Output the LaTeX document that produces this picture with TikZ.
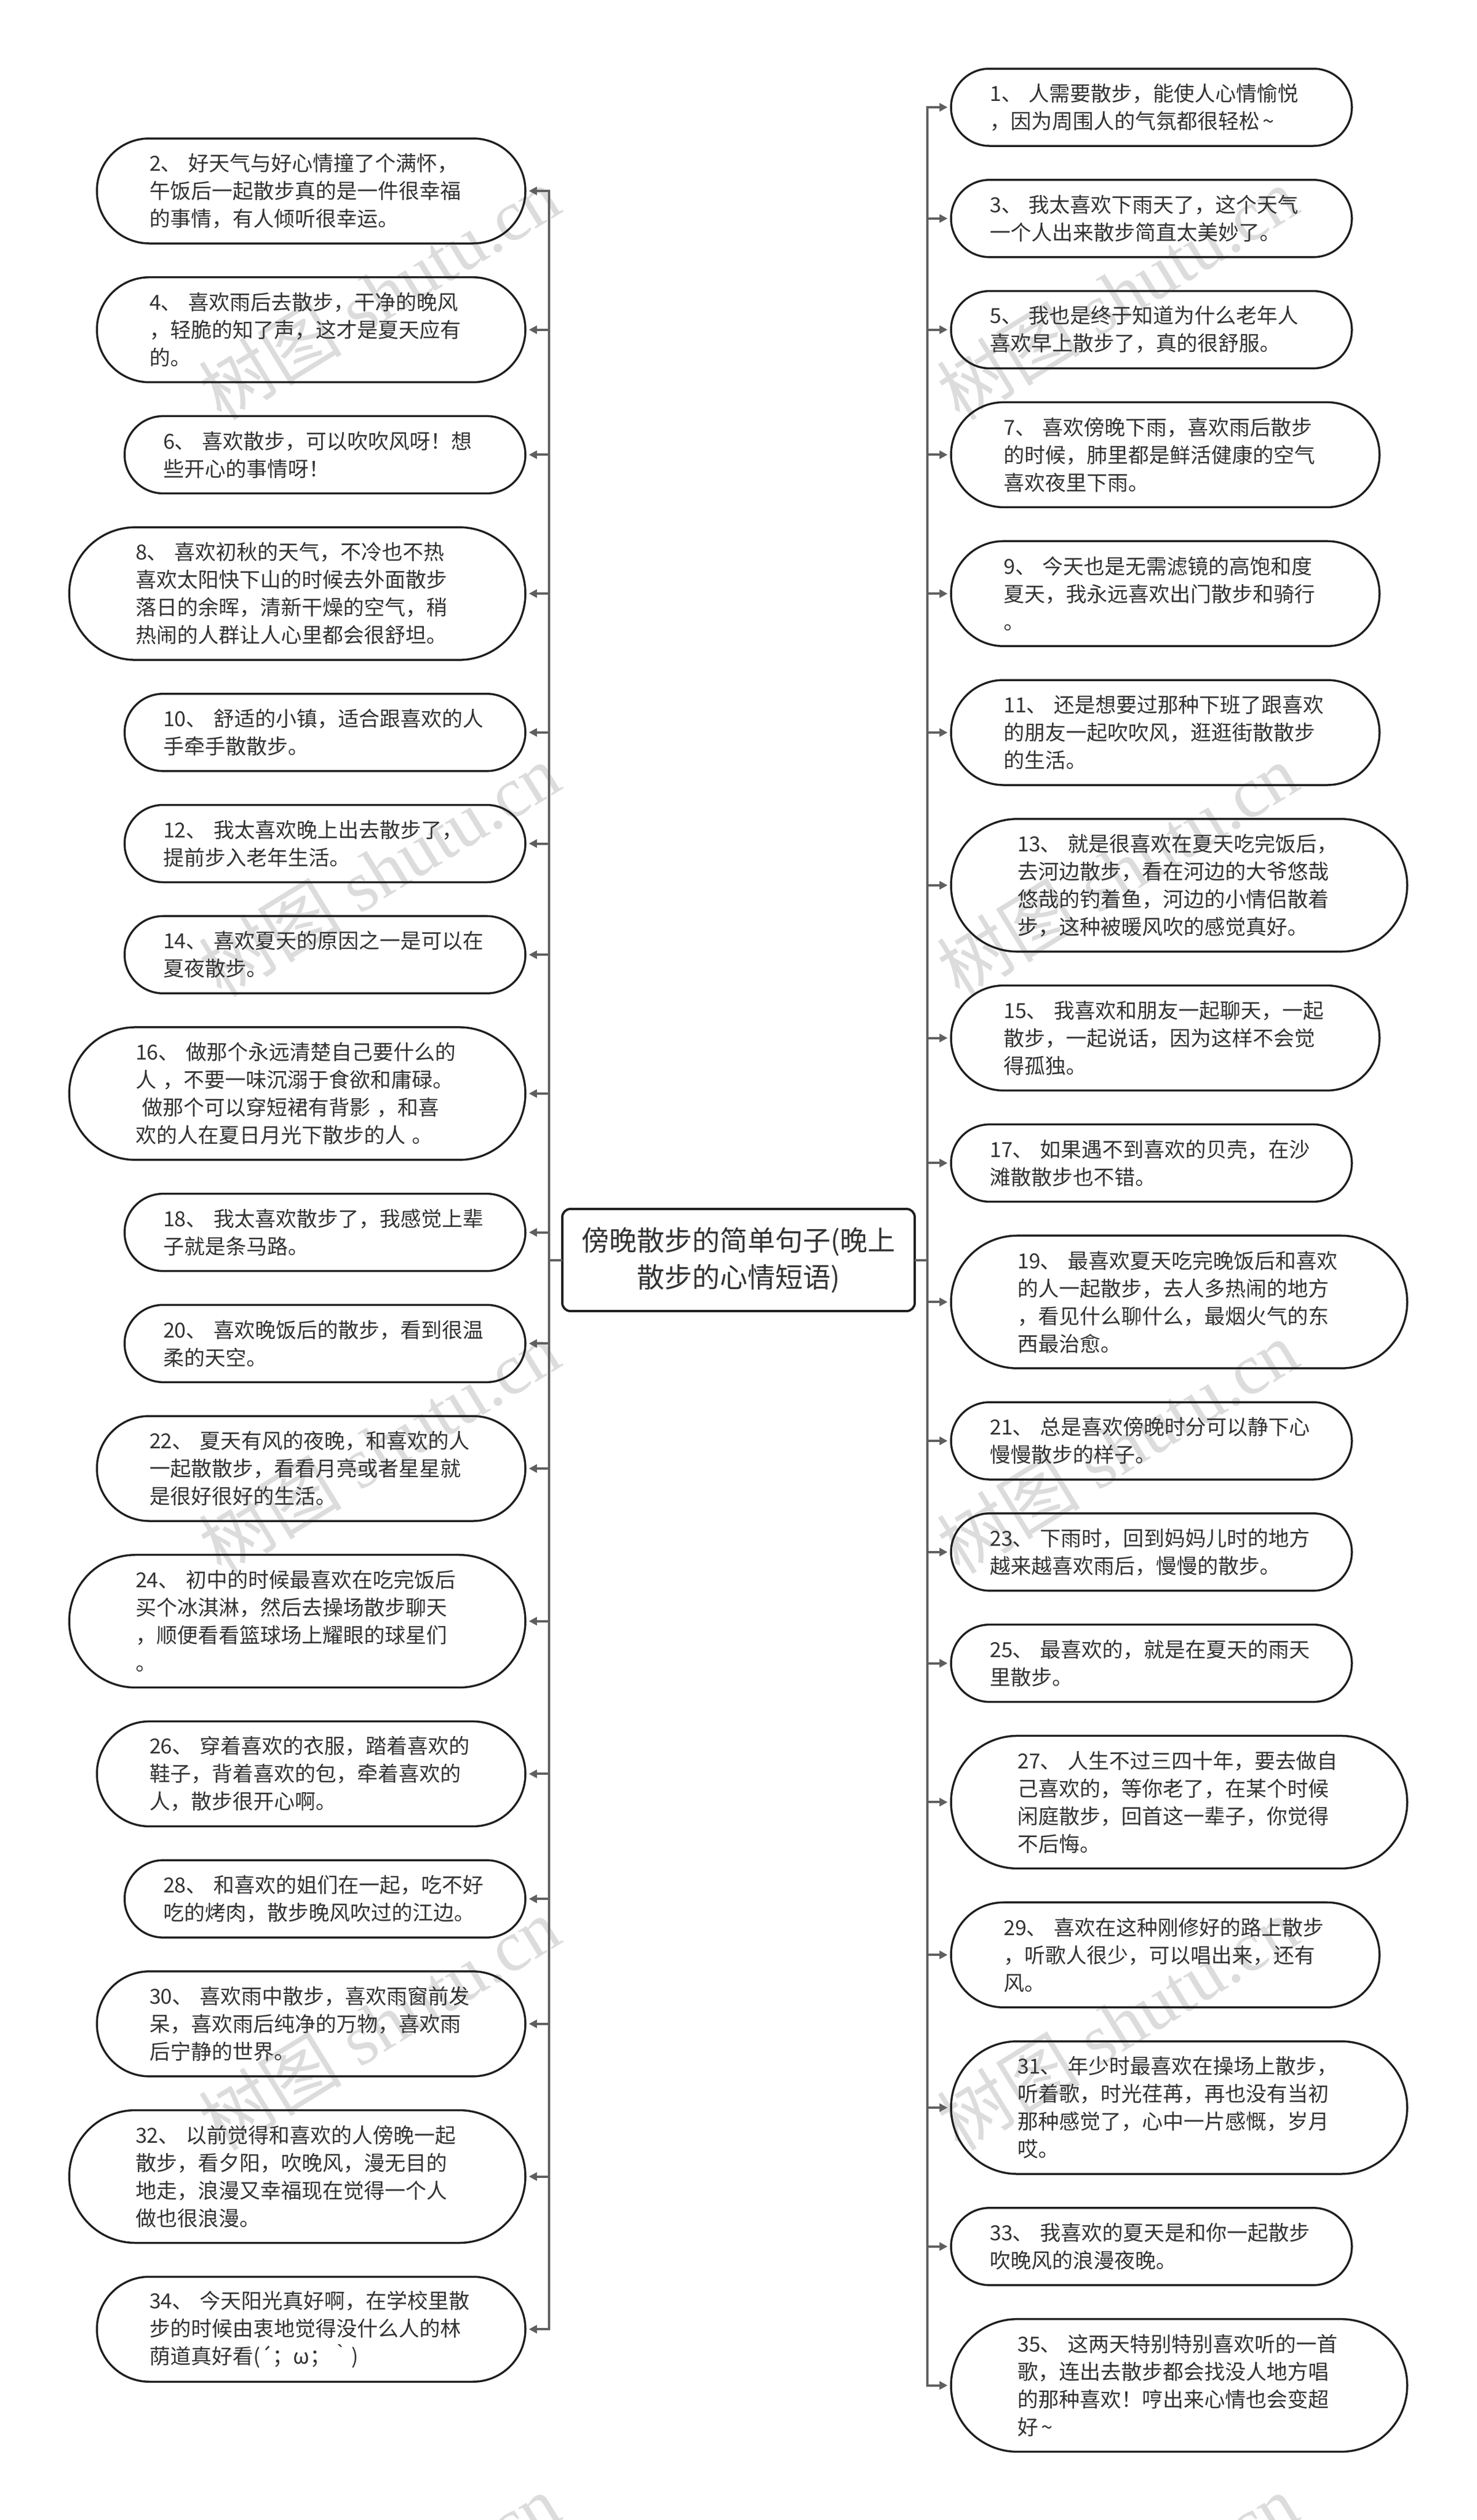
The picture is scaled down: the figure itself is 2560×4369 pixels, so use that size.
\documentclass[tikz,border=0pt]{standalone}
\usepackage{fontspec}
\setmainfont{Noto Sans CJK SC}
\newfontfamily\wmcjk{Noto Sans CJK SC}
\newfontfamily\wmlatin{Liberation Serif}
\usetikzlibrary{arrows.meta}
\definecolor{inkc}{HTML}{333333}
\definecolor{edgec}{HTML}{1F1F1F}
\definecolor{connc}{HTML}{5F5F5F}
\definecolor{markc}{HTML}{DCDCDC}
\tikzset{
  leafbase/.style={draw=edgec,line width=3.5pt,rectangle,text=inkc,align=left,
    text width=561pt,inner ysep=0pt,outer sep=0pt,
    font=\fontsize{36pt}{48pt}\selectfont},
  leaftwo/.style={leafbase,inner xsep=67pt,minimum height=134pt,rounded corners=66.9pt},
  leafthree/.style={leafbase,inner xsep=91pt,minimum height=182pt,rounded corners=90.9pt},
  leaffour/.style={leafbase,inner xsep=115pt,minimum height=230pt,rounded corners=114.9pt},
  rootbox/.style={draw=edgec,line width=4pt,rectangle,rounded corners=14pt,text=inkc,
    align=center,minimum width=611pt,minimum height=177pt,outer sep=0pt,inner sep=0pt,
    font=\fontsize{48pt}{64pt}\selectfont},
  conn/.style={draw=connc,line width=4pt,-{Triangle[length=14pt,width=14pt]},shorten >=6pt},
  stem/.style={draw=connc,line width=4pt},
  markbox/.style={text=markc,rotate=31.6,inner sep=0pt},
}
\newcommand{\wmk}{{\fontsize{124.5pt}{124.5pt}\wmcjk 树图\wmlatin{} shutu.cn}}
\begin{document}
\begin{tikzpicture}[x=1pt,y=-1pt]
\fill[white] (0,0) rectangle (2560,4369);
\useasboundingbox (0,0) rectangle (2560,4369);
% watermarks
\foreach \wx/\wy/\wn in {657.5/508.5/a,657.5/1508.5/b,657.5/2508.5/c,657.5/3508.5/d,657.5/4508.5/e,1937.5/508.5/f,1937.5/1508.5/g,1937.5/2508.5/h,1937.5/3508.5/i,1937.5/4508.5/j}
  \node[markbox] (mark\wn) at (\wx,\wy) {\wmk};
% root
\node[rootbox] (root) at (1280.5,2184.5) {傍晚散步的简单句子(晚上\\散步的心情短语)};
\coordinate (trunkL) at (952,2184.5);
\coordinate (trunkR) at (1608,2184.5);
% left leaves
\node[leafthree,anchor=east] (l2) at (911,331) {2、 好天气与好心情撞了个满怀，\\午饭后一起散步真的是一件很幸福\\的事情，有人倾听很幸运。};
\node[leafthree,anchor=east] (l4) at (911,571.7) {4、 喜欢雨后去散步，干净的晚风\\，轻脆的知了声，这才是夏天应有\\的。};
\node[leaftwo,anchor=east] (l6) at (911,788.4) {6、 喜欢散步，可以吹吹风呀！想\\些开心的事情呀！};
\node[leaffour,anchor=east] (l8) at (911,1029.1) {8、 喜欢初秋的天气，不冷也不热\\喜欢太阳快下山的时候去外面散步\\落日的余晖，清新干燥的空气，稍\\热闹的人群让人心里都会很舒坦。};
\node[leaftwo,anchor=east] (l10) at (911,1269.8) {10、 舒适的小镇，适合跟喜欢的人\\手牵手散散步。};
\node[leaftwo,anchor=east] (l12) at (911,1462.5) {12、 我太喜欢晚上出去散步了，\\提前步入老年生活。};
\node[leaftwo,anchor=east] (l14) at (911,1655.2) {14、 喜欢夏天的原因之一是可以在\\夏夜散步。};
\node[leaffour,anchor=east] (l16) at (911,1895.9) {16、 做那个永远清楚自己要什么的\\人 ，不要一味沉溺于食欲和庸碌。\\\hspace*{11pt}做那个可以穿短裙有背影 ，和喜\\欢的人在夏日月光下散步的人 。};
\node[leaftwo,anchor=east] (l18) at (911,2136.6) {18、 我太喜欢散步了，我感觉上辈\\子就是条马路。};
\node[leaftwo,anchor=east] (l20) at (911,2329.3) {20、 喜欢晚饭后的散步，看到很温\\柔的天空。};
\node[leafthree,anchor=east] (l22) at (911,2546) {22、 夏天有风的夜晚，和喜欢的人\\一起散散步，看看月亮或者星星就\\是很好很好的生活。};
\node[leaffour,anchor=east] (l24) at (911,2810.7) {24、 初中的时候最喜欢在吃完饭后\\买个冰淇淋，然后去操场散步聊天\\，顺便看看篮球场上耀眼的球星们\\。};
\node[leafthree,anchor=east] (l26) at (911,3075.4) {26、 穿着喜欢的衣服，踏着喜欢的\\鞋子，背着喜欢的包，牵着喜欢的\\人，散步很开心啊。};
\node[leaftwo,anchor=east] (l28) at (911,3292.1) {28、 和喜欢的姐们在一起，吃不好\\吃的烤肉，散步晚风吹过的江边。};
\node[leafthree,anchor=east] (l30) at (911,3508.8) {30、 喜欢雨中散步，喜欢雨窗前发\\呆，喜欢雨后纯净的万物，喜欢雨\\后宁静的世界。};
\node[leaffour,anchor=east] (l32) at (911,3773.5) {32、 以前觉得和喜欢的人傍晚一起\\散步，看夕阳，吹晚风，漫无目的\\地走，浪漫又幸福现在觉得一个人\\做也很浪漫。};
\node[leafthree,anchor=east] (l34) at (911,4038.2) {34、 今天阳光真好啊，在学校里散\\步的时候由衷地觉得没什么人的林\\荫道真好看(´；ω；｀)};
% right leaves
\node[leaftwo,anchor=west] (r1) at (1649,186) {1、 人需要散步，能使人心情愉悦\\，因为周围人的气氛都很轻松\,\textasciitilde};
\node[leaftwo,anchor=west] (r3) at (1649,378.8) {3、 我太喜欢下雨天了，这个天气\\一个人出来散步简直太美妙了。};
\node[leaftwo,anchor=west] (r5) at (1649,571.6) {5、 我也是终于知道为什么老年人\\喜欢早上散步了，真的很舒服。};
\node[leafthree,anchor=west] (r7) at (1649,788.4) {7、 喜欢傍晚下雨，喜欢雨后散步\\的时候，肺里都是鲜活健康的空气\\喜欢夜里下雨。};
\node[leafthree,anchor=west] (r9) at (1649,1029.2) {9、 今天也是无需滤镜的高饱和度\\夏天，我永远喜欢出门散步和骑行\\。};
\node[leafthree,anchor=west] (r11) at (1649,1270) {11、 还是想要过那种下班了跟喜欢\\的朋友一起吹吹风，逛逛街散散步\\的生活。};
\node[leaffour,anchor=west] (r13) at (1649,1534.8) {13、 就是很喜欢在夏天吃完饭后，\\去河边散步，看在河边的大爷悠哉\\悠哉的钓着鱼，河边的小情侣散着\\步，这种被暖风吹的感觉真好。};
\node[leafthree,anchor=west] (r15) at (1649,1799.6) {15、 我喜欢和朋友一起聊天，一起\\散步，一起说话，因为这样不会觉\\得孤独。};
\node[leaftwo,anchor=west] (r17) at (1649,2016.4) {17、 如果遇不到喜欢的贝壳，在沙\\滩散散步也不错。};
\node[leaffour,anchor=west] (r19) at (1649,2257.2) {19、 最喜欢夏天吃完晚饭后和喜欢\\的人一起散步，去人多热闹的地方\\，看见什么聊什么，最烟火气的东\\西最治愈。};
\node[leaftwo,anchor=west] (r21) at (1649,2498) {21、 总是喜欢傍晚时分可以静下心\\慢慢散步的样子。};
\node[leaftwo,anchor=west] (r23) at (1649,2690.8) {23、 下雨时，回到妈妈儿时的地方\\越来越喜欢雨后，慢慢的散步。};
\node[leaftwo,anchor=west] (r25) at (1649,2883.6) {25、 最喜欢的，就是在夏天的雨天\\里散步。};
\node[leaffour,anchor=west] (r27) at (1649,3124.4) {27、 人生不过三四十年，要去做自\\己喜欢的，等你老了，在某个时候\\闲庭散步，回首这一辈子，你觉得\\不后悔。};
\node[leafthree,anchor=west] (r29) at (1649,3389.2) {29、 喜欢在这种刚修好的路上散步\\，听歌人很少，可以唱出来，还有\\风。};
\node[leaffour,anchor=west] (r31) at (1649,3654) {31、 年少时最喜欢在操场上散步，\\听着歌，时光荏苒，再也没有当初\\那种感觉了，心中一片感慨，岁月\\哎。};
\node[leaftwo,anchor=west] (r33) at (1649,3894.8) {33、 我喜欢的夏天是和你一起散步\\吹晚风的浪漫夜晚。};
\node[leaffour,anchor=west] (r35) at (1649,4135.6) {35、 这两天特别特别喜欢听的一首\\歌，连出去散步都会找没人地方唱\\的那种喜欢！哼出来心情也会变超\\好\,\textasciitilde};
% connectors
\draw[stem] (root.west) -- (trunkL);
\draw[stem] (root.east) -- (trunkR);
\foreach \n in {l2,l4,l6,l8,l10,l12,l14,l16,l18,l20,l22,l24,l26,l28,l30,l32,l34}
  \draw[conn] (trunkL) |- (\n.east);
\foreach \n in {r1,r3,r5,r7,r9,r11,r13,r15,r17,r19,r21,r23,r25,r27,r29,r31,r33,r35}
  \draw[conn] (trunkR) |- (\n.west);
\end{tikzpicture}
\end{document}
